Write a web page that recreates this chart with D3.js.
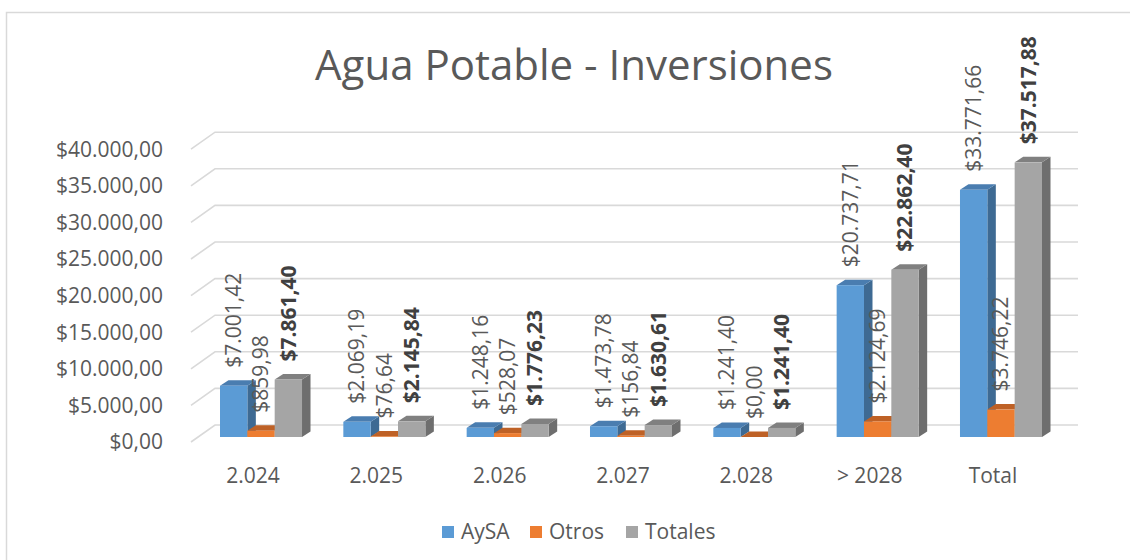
<!DOCTYPE html>
<html>
<head>
<meta charset="utf-8">
<script src="https://cdn.jsdelivr.net/npm/d3@7"></script>
<style>
  html, body { margin: 0; padding: 0; background: #fff; }
  svg { display: block; }
  text { font-family: "Open Sans", "Noto Sans", sans-serif; fill: #595959; }
</style>
</head>
<body>
<svg id="chart" width="1130" height="560"></svg>
<script>
// ---- data ----
const categories = ["2.024", "2.025", "2.026", "2.027", "2.028", "> 2028", "Total"];
const seriesNames = ["AySA", "Otros", "Totales"];
const aysa    = [7001.42, 2069.19, 1248.16, 1473.78, 1241.40, 20737.71, 33771.66];
const otros   = [859.98, 76.64, 528.07, 156.84, 0.00, 2124.69, 3746.22];
const totales = [7861.40, 2145.84, 1776.23, 1630.61, 1241.40, 22862.40, 37517.88];
const yTicks  = [0, 5000, 10000, 15000, 20000, 25000, 30000, 35000, 40000];
const titleText = "Agua Potable - Inversiones";

const seriesValues = [aysa, otros, totales];
const colors = {
  AySA:    { front: "#5B9BD5", side: "#3E6A93", top: "#4A7DB0" },
  Otros:   { front: "#ED7D31", side: "#B45C21", top: "#BE6126" },
  Totales: { front: "#A5A5A5", side: "#6E6E6E", top: "#808080" }
};

const loc = d3.formatLocale({ decimal: ",", thousands: ".", grouping: [3], currency: ["$", ""] });
const fmt = loc.format("$,.2f");

const svg = d3.select("#chart");
const fs = "21px";

// outer border
svg.append("rect").attr("x", 6.5).attr("y", 12.5).attr("width", 1140).attr("height", 560)
  .attr("fill", "none").attr("stroke", "#d9d9d9").attr("stroke-width", 1.5);

// scales
const y = d3.scaleLinear().domain([0, 40000]).range([437, 144.2]);
const x = d3.scaleBand().domain(categories).range([220, 1042]).paddingInner(0.335).paddingOuter(0);
const xs = d3.scaleBand().domain(seriesNames).range([0, x.bandwidth()]).padding(0);

const gridFrontX = 191, depthX = 24, depthY = -17, gridRight = 1078, frontOff = 5;
const barDX = 8.5, barDY = -5.5;

// gridlines (3D wall)
svg.append("g").selectAll("path").data(yTicks).join("path")
  .attr("d", v => {
    const yf = y(v) + frontOff;
    return `M${gridFrontX},${yf}L${gridFrontX + depthX},${yf + depthY}L${gridRight},${yf + depthY}`;
  })
  .attr("fill", "none").attr("stroke", "#d9d9d9").attr("stroke-width", 1.6);

// y tick labels
svg.append("g").selectAll("text").data(yTicks).join("text")
  .attr("x", 163).attr("y", v => y(v) + frontOff)
  .attr("dy", "0.35em").attr("text-anchor", "end")
  .style("font-size", fs)
  .text(v => fmt(v));

// category labels
svg.append("g").selectAll("text").data(categories).join("text")
  .attr("x", c => x(c) + x.bandwidth() / 2 - 8).attr("y", 483)
  .attr("text-anchor", "middle").style("font-size", fs)
  .text(c => c);

// bars
const barsData = [];
categories.forEach((c, i) => {
  seriesNames.forEach((s, j) => barsData.push({ c, s, v: seriesValues[j][i] }));
});

const bars = svg.append("g");
barsData.forEach(d => {
  const x0 = x(d.c) + xs(d.s), w = xs.bandwidth();
  const yt = y(d.v), yb = y(0);
  const col = colors[d.s];
  const g = bars.append("g");
  g.append("polygon")
    .attr("points", [[x0 + w, yt], [x0 + w + barDX, yt + barDY], [x0 + w + barDX, yb + barDY], [x0 + w, yb]].map(p => p.join(",")).join(" "))
    .attr("fill", col.side);
  g.append("polygon")
    .attr("points", [[x0, yt], [x0 + barDX, yt + barDY], [x0 + w + barDX, yt + barDY], [x0 + w, yt]].map(p => p.join(",")).join(" "))
    .attr("fill", col.top);
  g.append("rect").attr("x", x0).attr("y", yt).attr("width", w).attr("height", yb - yt)
    .attr("fill", col.front);
});

// data labels
svg.append("g").selectAll("text").data(barsData).join("text")
  .attr("transform", d => `translate(${x(d.c) + xs(d.s) + xs.bandwidth() / 2},${y(d.v) - 18}) rotate(-90)`)
  .attr("dy", "0.35em").attr("text-anchor", "start")
  .style("font-size", fs)
  .style("font-weight", d => d.s === "Totales" ? "bold" : "normal")
  .style("fill", d => d.s === "Totales" ? "#404040" : "#595959")
  .text(d => fmt(d.v));

// title
svg.append("text").attr("x", 574).attr("y", 80).attr("text-anchor", "middle")
  .style("font-size", "42px").text(titleText);

// legend
const legendX = [442, 530, 626];
const lg = svg.append("g").selectAll("g").data(seriesNames).join("g")
  .attr("transform", (s, i) => `translate(${legendX[i]},526)`);
lg.append("rect").attr("width", 12).attr("height", 12).attr("fill", s => colors[s].front);
lg.append("text").attr("x", 19).attr("y", 6).attr("dy", "0.35em").style("font-size", fs).text(s => s);
</script>
</body>
</html>
